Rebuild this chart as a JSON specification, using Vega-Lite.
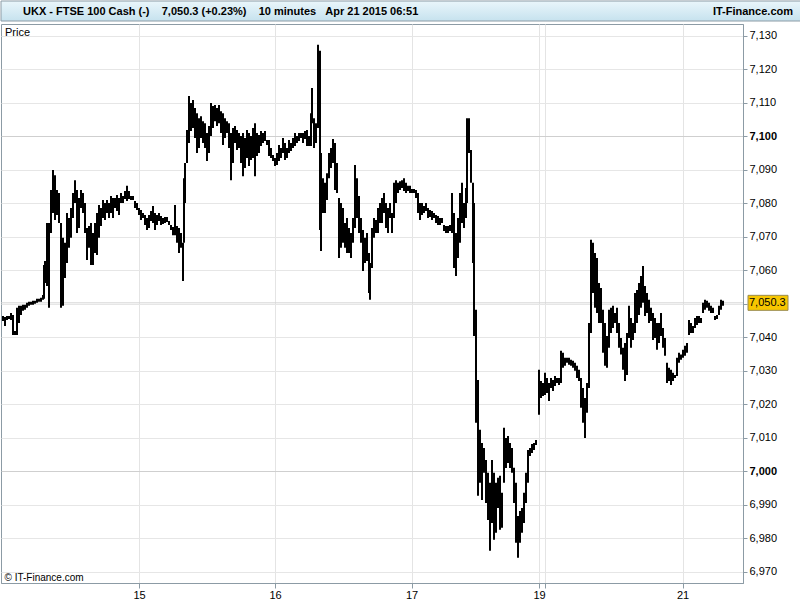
{
  "$schema": "https://vega.github.io/schema/vega-lite/v6.json",
  "padding": 0,
  "background": "white",
  "spacing": 1,
  "config": {"font": "Liberation Sans", "view": {"stroke": null}},
  "vconcat": [
    {
      "width": 800,
      "height": 20,
      "data": {"values": [{"head": "UKX - FTSE 100 Cash (-)\u00a0\u00a0\u00a0\u00a07,050.3 (+0.23%)\u00a0\u00a0\u00a0\u00a010 minutes\u00a0\u00a0\u00a0Apr 21 2015 06:51", "site": "IT-Finance.com"}]},
      "layer": [
        {
          "mark": {"type": "rect", "fill": {"gradient": "linear", "x1": 0, "y1": 0, "x2": 0, "y2": 1, "stops": [{"offset": 0, "color": "#eaf6fb"}, {"offset": 1, "color": "#c6e2ee"}]}, "stroke": "#8c9ba5", "strokeWidth": 1},
          "encoding": {}
        },
        {
          "mark": {"type": "text", "align": "left", "baseline": "middle", "dx": -378, "dy": 1, "fontSize": 11, "fontWeight": "bold", "color": "#000"},
          "encoding": {"text": {"field": "head"}}
        },
        {
          "mark": {"type": "text", "align": "right", "baseline": "middle", "dx": 392, "dy": 1, "fontSize": 11, "fontWeight": "bold", "color": "#000"},
          "encoding": {"text": {"field": "site"}}
        }
      ]
    },
    {
      "width": 742,
      "height": 559,
      "view": {"stroke": "#8c9ba5", "strokeWidth": 1},
      "title": {"text": "Price", "anchor": "start", "frame": "group", "orient": "top", "offset": -14, "dx": 4, "fontSize": 11, "fontWeight": "normal", "color": "#000"},
      "layer": [
        {
          "data": {"values": [{"last": 7050.3}]},
          "mark": {"type": "rule", "color": "#d4d4d4", "strokeWidth": 1},
          "encoding": {
            "y": {"field": "last", "type": "quantitative", "scale": {"domain": [6966.7, 7133.5], "nice": false, "zero": false}}
          }
        },
        {
          "data": {"values": [
            {"bar":2,"high":7046.4,"low":7044.9},{"bar":4,"high":7046.1,"low":7043.4},{"bar":6,"high":7046.4,"low":7045.2},{"bar":8,"high":7046.4,"low":7045.5},
            {"bar":10,"high":7047.3,"low":7045.2},{"bar":12,"high":7046.7,"low":7040.7},{"bar":14,"high":7041.9,"low":7040.7},{"bar":16,"high":7048.8,"low":7040.7},
            {"bar":18,"high":7049.4,"low":7044.3},{"bar":20,"high":7049.4,"low":7046.7},{"bar":22,"high":7049.7,"low":7047.9},{"bar":24,"high":7049.7,"low":7048.2},
            {"bar":26,"high":7050.3,"low":7048.8},{"bar":28,"high":7050.6,"low":7049.4},{"bar":30,"high":7050.6,"low":7049.7},{"bar":32,"high":7050.9,"low":7049.7},
            {"bar":34,"high":7050.9,"low":7050.0},{"bar":36,"high":7051.5,"low":7050.3},{"bar":38,"high":7051.5,"low":7050.6},{"bar":40,"high":7051.8,"low":7050.6},
            {"bar":42,"high":7052.6,"low":7051.2},{"bar":43,"high":7061.6,"low":7051.5},{"bar":44,"high":7062.8,"low":7056.2},{"bar":46,"high":7074.1,"low":7055.3},
            {"bar":48,"high":7074.1,"low":7048.8},{"bar":50,"high":7084.0,"low":7071.1},{"bar":52,"high":7089.9,"low":7077.1},{"bar":54,"high":7088.4,"low":7075.0},
            {"bar":56,"high":7084.0,"low":7076.5},{"bar":58,"high":7083.1,"low":7074.1},{"bar":60,"high":7074.1,"low":7048.8},{"bar":62,"high":7069.7,"low":7049.4},
            {"bar":64,"high":7068.2,"low":7057.7},{"bar":66,"high":7077.1,"low":7062.2},{"bar":68,"high":7075.6,"low":7066.7},{"bar":70,"high":7078.6,"low":7069.7},
            {"bar":72,"high":7083.1,"low":7075.6},{"bar":74,"high":7086.9,"low":7080.1},{"bar":76,"high":7084.0,"low":7071.1},{"bar":78,"high":7081.6,"low":7072.6},
            {"bar":80,"high":7084.0,"low":7078.6},{"bar":82,"high":7083.1,"low":7077.1},{"bar":84,"high":7080.1,"low":7071.1},{"bar":86,"high":7072.6,"low":7063.1},
            {"bar":88,"high":7073.2,"low":7066.7},{"bar":90,"high":7074.1,"low":7061.6},{"bar":92,"high":7071.1,"low":7061.6},{"bar":94,"high":7074.1,"low":7065.2},
            {"bar":96,"high":7077.1,"low":7064.6},{"bar":98,"high":7079.5,"low":7069.7},{"bar":100,"high":7078.6,"low":7073.2},{"bar":102,"high":7081.0,"low":7075.6},
            {"bar":104,"high":7080.1,"low":7075.0},{"bar":106,"high":7081.0,"low":7077.1},{"bar":108,"high":7080.1,"low":7075.6},{"bar":110,"high":7082.2,"low":7077.1},
            {"bar":112,"high":7081.6,"low":7075.6},{"bar":114,"high":7081.6,"low":7078.6},{"bar":116,"high":7082.5,"low":7077.7},{"bar":118,"high":7081.6,"low":7076.5},
            {"bar":120,"high":7083.1,"low":7080.1},{"bar":122,"high":7082.2,"low":7080.1},{"bar":124,"high":7083.7,"low":7081.3},{"bar":126,"high":7085.2,"low":7080.7},
            {"bar":128,"high":7083.7,"low":7081.3},{"bar":130,"high":7082.2,"low":7081.0},{"bar":132,"high":7082.2,"low":7081.0},{"bar":134,"high":7080.7,"low":7078.6},
            {"bar":136,"high":7080.1,"low":7078.0},{"bar":138,"high":7078.6,"low":7076.5},{"bar":140,"high":7078.0,"low":7075.0},{"bar":142,"high":7077.1,"low":7075.6},
            {"bar":144,"high":7076.5,"low":7073.5},{"bar":146,"high":7075.6,"low":7072.0},{"bar":148,"high":7076.5,"low":7072.6},{"bar":150,"high":7077.7,"low":7074.7},
            {"bar":152,"high":7079.2,"low":7074.1},{"bar":154,"high":7077.1,"low":7072.0},{"bar":156,"high":7076.5,"low":7073.5},{"bar":158,"high":7077.1,"low":7074.7},
            {"bar":160,"high":7076.2,"low":7073.5},{"bar":162,"high":7075.6,"low":7073.8},{"bar":164,"high":7075.9,"low":7074.1},{"bar":166,"high":7075.9,"low":7074.4},
            {"bar":168,"high":7074.7,"low":7073.5},{"bar":170,"high":7073.5,"low":7072.0},{"bar":172,"high":7072.9,"low":7070.5},{"bar":174,"high":7079.5,"low":7070.5},
            {"bar":176,"high":7073.2,"low":7068.2},{"bar":178,"high":7072.6,"low":7065.2},{"bar":180,"high":7071.1,"low":7066.7},{"bar":182,"high":7068.2,"low":7056.8},
            {"bar":183,"high":7087.5,"low":7068.2},{"bar":184,"high":7092.0,"low":7080.1},{"bar":186,"high":7101.9,"low":7092.0},{"bar":188,"high":7112.0,"low":7098.0},
            {"bar":190,"high":7109.9,"low":7101.6},{"bar":192,"high":7110.8,"low":7102.5},{"bar":194,"high":7108.4,"low":7099.5},{"bar":196,"high":7106.9,"low":7095.0},
            {"bar":198,"high":7105.4,"low":7096.5},{"bar":200,"high":7106.0,"low":7099.5},{"bar":202,"high":7104.5,"low":7098.0},{"bar":204,"high":7103.9,"low":7096.5},
            {"bar":206,"high":7101.0,"low":7092.6},{"bar":208,"high":7103.1,"low":7095.0},{"bar":210,"high":7109.9,"low":7100.1},{"bar":212,"high":7109.0,"low":7102.5},
            {"bar":214,"high":7109.3,"low":7104.5},{"bar":216,"high":7108.4,"low":7103.1},{"bar":218,"high":7109.3,"low":7103.9},{"bar":220,"high":7107.5,"low":7101.0},
            {"bar":222,"high":7106.9,"low":7097.4},{"bar":224,"high":7105.4,"low":7099.5},{"bar":226,"high":7104.5,"low":7101.0},{"bar":228,"high":7103.9,"low":7096.5},
            {"bar":230,"high":7101.0,"low":7086.9},{"bar":232,"high":7102.5,"low":7092.0},{"bar":234,"high":7103.1,"low":7098.0},{"bar":236,"high":7101.9,"low":7095.9},
            {"bar":238,"high":7101.0,"low":7096.5},{"bar":240,"high":7100.1,"low":7092.0},{"bar":242,"high":7101.0,"low":7088.1},{"bar":244,"high":7099.5,"low":7090.5},
            {"bar":246,"high":7101.9,"low":7093.5},{"bar":248,"high":7101.0,"low":7091.1},{"bar":250,"high":7100.1,"low":7092.9},{"bar":252,"high":7102.5,"low":7093.5},
            {"bar":254,"high":7103.9,"low":7088.1},{"bar":256,"high":7101.0,"low":7094.1},{"bar":258,"high":7100.4,"low":7095.0},{"bar":260,"high":7101.6,"low":7097.1},
            {"bar":262,"high":7101.0,"low":7098.0},{"bar":264,"high":7101.6,"low":7098.6},{"bar":266,"high":7098.9,"low":7097.4},{"bar":268,"high":7098.9,"low":7094.1},
            {"bar":270,"high":7096.5,"low":7093.5},{"bar":272,"high":7094.4,"low":7092.6},{"bar":274,"high":7093.5,"low":7091.1},{"bar":276,"high":7095.0,"low":7091.4},
            {"bar":278,"high":7097.4,"low":7092.6},{"bar":280,"high":7096.5,"low":7093.5},{"bar":282,"high":7099.5,"low":7095.0},{"bar":284,"high":7098.0,"low":7092.9},
            {"bar":286,"high":7096.5,"low":7093.5},{"bar":288,"high":7098.9,"low":7095.0},{"bar":290,"high":7098.0,"low":7095.6},{"bar":292,"high":7099.5,"low":7096.5},
            {"bar":294,"high":7101.0,"low":7097.1},{"bar":296,"high":7100.1,"low":7098.0},{"bar":298,"high":7101.0,"low":7098.6},{"bar":300,"high":7101.0,"low":7099.5},
            {"bar":302,"high":7101.0,"low":7098.0},{"bar":304,"high":7101.6,"low":7099.2},{"bar":306,"high":7101.9,"low":7097.1},{"bar":308,"high":7100.1,"low":7097.1},
            {"bar":310,"high":7106.9,"low":7097.1},{"bar":311,"high":7114.4,"low":7103.9},{"bar":313,"high":7105.4,"low":7096.5},{"bar":315,"high":7103.9,"low":7098.0},
            {"bar":317,"high":7127.3,"low":7102.5},{"bar":319,"high":7125.5,"low":7072.0},{"bar":320,"high":7095.0,"low":7065.8},{"bar":322,"high":7087.5,"low":7077.1},
            {"bar":324,"high":7086.1,"low":7077.1},{"bar":326,"high":7089.0,"low":7081.0},{"bar":328,"high":7095.0,"low":7087.5},{"bar":330,"high":7096.5,"low":7090.5},
            {"bar":332,"high":7099.2,"low":7092.0},{"bar":334,"high":7098.0,"low":7084.0},{"bar":336,"high":7092.0,"low":7083.1},{"bar":338,"high":7081.6,"low":7063.7},
            {"bar":340,"high":7080.1,"low":7066.7},{"bar":342,"high":7078.6,"low":7068.2},{"bar":344,"high":7074.1,"low":7066.7},{"bar":346,"high":7075.6,"low":7065.2},
            {"bar":348,"high":7072.6,"low":7065.2},{"bar":350,"high":7071.1,"low":7063.7},{"bar":352,"high":7075.6,"low":7068.2},{"bar":354,"high":7091.4,"low":7072.6},
            {"bar":356,"high":7087.5,"low":7075.6},{"bar":358,"high":7082.2,"low":7071.1},{"bar":360,"high":7075.6,"low":7068.2},{"bar":362,"high":7072.0,"low":7059.8},
            {"bar":364,"high":7069.7,"low":7062.2},{"bar":366,"high":7071.1,"low":7062.8},{"bar":368,"high":7065.2,"low":7053.2},{"bar":369,"high":7062.2,"low":7051.2},
            {"bar":371,"high":7072.6,"low":7060.7},{"bar":373,"high":7075.6,"low":7069.7},{"bar":375,"high":7075.0,"low":7071.1},{"bar":377,"high":7078.6,"low":7071.1},
            {"bar":379,"high":7080.1,"low":7074.1},{"bar":381,"high":7081.6,"low":7074.1},{"bar":383,"high":7083.1,"low":7077.1},{"bar":385,"high":7080.1,"low":7072.6},
            {"bar":387,"high":7078.6,"low":7071.1},{"bar":389,"high":7080.1,"low":7075.6},{"bar":391,"high":7077.1,"low":7071.1},{"bar":393,"high":7086.1,"low":7075.6},
            {"bar":395,"high":7086.9,"low":7080.1},{"bar":397,"high":7086.1,"low":7083.1},{"bar":399,"high":7086.6,"low":7084.0},{"bar":401,"high":7086.9,"low":7084.6},
            {"bar":403,"high":7087.5,"low":7083.7},{"bar":405,"high":7086.1,"low":7083.1},{"bar":407,"high":7085.2,"low":7083.7},{"bar":409,"high":7085.2,"low":7083.1},
            {"bar":411,"high":7084.3,"low":7083.1},{"bar":413,"high":7084.3,"low":7083.1},{"bar":415,"high":7084.0,"low":7081.6},{"bar":417,"high":7083.1,"low":7077.1},
            {"bar":419,"high":7080.1,"low":7075.0},{"bar":421,"high":7080.1,"low":7076.5},{"bar":423,"high":7079.2,"low":7077.1},{"bar":425,"high":7080.1,"low":7077.7},
            {"bar":427,"high":7078.6,"low":7075.6},{"bar":429,"high":7078.0,"low":7075.9},{"bar":431,"high":7077.7,"low":7075.0},{"bar":433,"high":7077.1,"low":7075.6},
            {"bar":435,"high":7076.5,"low":7074.1},{"bar":437,"high":7076.2,"low":7073.5},{"bar":439,"high":7075.6,"low":7073.5},{"bar":441,"high":7075.6,"low":7074.1},
            {"bar":443,"high":7073.5,"low":7071.7},{"bar":445,"high":7073.2,"low":7071.1},{"bar":447,"high":7073.2,"low":7071.1},{"bar":449,"high":7073.5,"low":7071.7},
            {"bar":451,"high":7083.1,"low":7071.1},{"bar":453,"high":7077.1,"low":7060.7},{"bar":455,"high":7071.1,"low":7058.3},{"bar":457,"high":7075.6,"low":7063.7},
            {"bar":459,"high":7083.1,"low":7068.2},{"bar":461,"high":7086.1,"low":7074.1},{"bar":463,"high":7080.1,"low":7072.6},{"bar":465,"high":7084.6,"low":7075.6},
            {"bar":466,"high":7105.4,"low":7080.1},{"bar":468,"high":7105.4,"low":7095.0},{"bar":470,"high":7095.9,"low":7086.1},{"bar":472,"high":7086.1,"low":7062.2},
            {"bar":473,"high":7080.1,"low":7040.4},{"bar":475,"high":7048.2,"low":7014.5},{"bar":477,"high":7027.3,"low":6992.7},{"bar":479,"high":7012.4,"low":6996.6},
            {"bar":481,"high":7008.5,"low":6991.5},{"bar":483,"high":7007.0,"low":6999.6},{"bar":485,"high":7003.4,"low":6990.6},{"bar":487,"high":6999.6,"low":6985.5},
            {"bar":489,"high":6996.6,"low":6976.3},{"bar":491,"high":7003.4,"low":6984.6},{"bar":493,"high":6999.6,"low":6979.6},{"bar":495,"high":6996.6,"low":6981.7},
            {"bar":497,"high":6998.1,"low":6989.1},{"bar":499,"high":6998.7,"low":6982.6},{"bar":501,"high":6993.6,"low":6983.2},{"bar":503,"high":7013.0,"low":6996.6},
            {"bar":505,"high":7010.0,"low":7001.0},{"bar":507,"high":7010.6,"low":7002.5},{"bar":509,"high":7008.5,"low":7001.0},{"bar":511,"high":7007.0,"low":6999.6},
            {"bar":513,"high":7001.1,"low":6990.6},{"bar":515,"high":6996.6,"low":6978.7},{"bar":517,"high":6986.7,"low":6974.2},{"bar":519,"high":6988.2,"low":6978.7},
            {"bar":521,"high":6989.1,"low":6981.7},{"bar":523,"high":6993.6,"low":6984.6},{"bar":525,"high":6999.6,"low":6990.6},{"bar":527,"high":7006.4,"low":6996.6},
            {"bar":529,"high":7007.0,"low":7004.6},{"bar":531,"high":7008.2,"low":7005.5},{"bar":533,"high":7008.5,"low":7006.4},{"bar":535,"high":7009.4,"low":7007.9},
            {"bar":538,"high":7030.3,"low":7016.9},{"bar":540,"high":7027.0,"low":7021.9},{"bar":542,"high":7026.4,"low":7022.5},{"bar":544,"high":7029.4,"low":7022.8},
            {"bar":546,"high":7027.9,"low":7023.4},{"bar":548,"high":7026.4,"low":7021.0},{"bar":550,"high":7027.9,"low":7024.9},{"bar":552,"high":7027.3,"low":7024.0},
            {"bar":554,"high":7028.5,"low":7025.5},{"bar":556,"high":7027.9,"low":7026.4},{"bar":558,"high":7027.9,"low":7025.8},{"bar":560,"high":7036.0,"low":7026.4},
            {"bar":562,"high":7035.4,"low":7030.9},{"bar":564,"high":7033.9,"low":7031.5},{"bar":566,"high":7033.9,"low":7032.4},{"bar":568,"high":7033.9,"low":7031.8},
            {"bar":570,"high":7033.3,"low":7031.5},{"bar":572,"high":7033.0,"low":7030.9},{"bar":574,"high":7032.4,"low":7030.0},{"bar":576,"high":7031.5,"low":7027.9},
            {"bar":578,"high":7030.3,"low":7027.0},{"bar":580,"high":7027.9,"low":7019.0},{"bar":582,"high":7024.9,"low":7014.5},{"bar":584,"high":7021.9,"low":7010.0},
            {"bar":586,"high":7026.4,"low":7017.5},{"bar":588,"high":7044.3,"low":7024.9},{"bar":590,"high":7069.1,"low":7041.3},{"bar":592,"high":7068.2,"low":7053.2},
            {"bar":594,"high":7065.2,"low":7048.8},{"bar":596,"high":7063.7,"low":7047.3},{"bar":598,"high":7056.2,"low":7044.3},{"bar":600,"high":7054.7,"low":7044.3},
            {"bar":602,"high":7048.2,"low":7035.4},{"bar":604,"high":7044.3,"low":7031.5},{"bar":606,"high":7040.4,"low":7030.9},{"bar":608,"high":7048.2,"low":7036.9},
            {"bar":610,"high":7048.8,"low":7041.3},{"bar":612,"high":7049.4,"low":7042.8},{"bar":614,"high":7047.3,"low":7044.3},{"bar":616,"high":7048.8,"low":7041.3},
            {"bar":618,"high":7044.3,"low":7036.9},{"bar":620,"high":7039.8,"low":7034.9},{"bar":622,"high":7036.9,"low":7030.3},{"bar":624,"high":7038.3,"low":7027.0},
            {"bar":626,"high":7041.3,"low":7028.8},{"bar":628,"high":7049.4,"low":7039.8},{"bar":630,"high":7045.8,"low":7036.9},{"bar":632,"high":7044.3,"low":7039.2},
            {"bar":634,"high":7053.2,"low":7041.3},{"bar":636,"high":7054.1,"low":7044.3},{"bar":638,"high":7056.2,"low":7046.7},{"bar":640,"high":7058.3,"low":7048.8},
            {"bar":642,"high":7061.3,"low":7050.3},{"bar":644,"high":7055.3,"low":7046.4},{"bar":646,"high":7053.2,"low":7047.3},{"bar":648,"high":7051.2,"low":7044.3},
            {"bar":650,"high":7048.8,"low":7044.9},{"bar":652,"high":7047.3,"low":7039.2},{"bar":654,"high":7045.8,"low":7039.8},{"bar":656,"high":7044.3,"low":7036.3},
            {"bar":658,"high":7044.3,"low":7038.3},{"bar":660,"high":7047.3,"low":7040.4},{"bar":662,"high":7042.8,"low":7036.9},{"bar":664,"high":7039.8,"low":7034.5},
            {"bar":666,"high":7032.4,"low":7026.4},{"bar":668,"high":7030.9,"low":7027.0},{"bar":670,"high":7030.3,"low":7025.8},{"bar":672,"high":7029.4,"low":7027.0},
            {"bar":674,"high":7028.8,"low":7027.9},{"bar":676,"high":7033.9,"low":7028.5},{"bar":678,"high":7035.4,"low":7032.4},{"bar":680,"high":7034.9,"low":7033.3},
            {"bar":682,"high":7036.3,"low":7033.9},{"bar":684,"high":7037.5,"low":7034.5},{"bar":686,"high":7038.3,"low":7035.4},{"bar":688,"high":7045.2,"low":7040.7},
            {"bar":690,"high":7044.3,"low":7041.3},{"bar":692,"high":7043.4,"low":7041.3},{"bar":694,"high":7045.8,"low":7042.8},{"bar":696,"high":7046.4,"low":7043.7},
            {"bar":698,"high":7046.4,"low":7044.3},{"bar":700,"high":7045.8,"low":7044.3},{"bar":702,"high":7050.3,"low":7047.3},{"bar":704,"high":7051.2,"low":7048.2},
            {"bar":706,"high":7050.9,"low":7048.8},{"bar":708,"high":7050.3,"low":7047.9},{"bar":710,"high":7049.4,"low":7047.3},{"bar":712,"high":7048.8,"low":7047.3},
            {"bar":714,"high":7046.4,"low":7045.2},{"bar":716,"high":7046.7,"low":7045.5},{"bar":718,"high":7049.4,"low":7046.7},{"bar":720,"high":7051.2,"low":7048.2},
            {"bar":722,"high":7050.9,"low":7049.4}
          ]},
          "mark": {"type": "rule", "color": "#000", "strokeWidth": 2},
          "encoding": {
            "x": {"field": "bar", "type": "quantitative", "scale": {"domain": [0, 742], "nice": false, "zero": false},
              "axis": {"orient": "bottom", "values": [138, 274, 410.5, 538, 544, 681.5], "tickCount": 20, "labelExpr": "datum.value == 138 ? '15' : datum.value == 274 ? '16' : datum.value == 410.5 ? '17' : datum.value == 538 ? '19' : datum.value == 681.5 ? '21' : ''", "labelFontSize": 11, "labelColor": "#000", "labelPadding": 1, "labelOverlap": false, "labelFlush": false, "tickSize": 5, "tickColor": "#8c9ba5", "domainColor": "#8c9ba5", "grid": true, "gridColor": "#e4e4e4", "title": "© IT-Finance.com", "titleFontSize": 10, "titleFontWeight": "normal", "titleColor": "#000", "titleX": 3, "titleY": -3, "titleAlign": "left", "titleBaseline": "alphabetic"}},
            "y": {"field": "high", "type": "quantitative", "scale": {"domain": [6966.7, 7133.5], "nice": false, "zero": false},
              "axis": {"orient": "right", "values": [6970, 6980, 6990, 7000, 7010, 7020, 7030, 7040, 7050, 7060, 7070, 7080, 7090, 7100, 7110, 7120, 7130], "tickCount": 20, "format": ",d", "labelFontSize": 11, "labelColor": "#000", "labelFontWeight": {"condition": {"test": "datum.value % 100 === 0", "value": "bold"}, "value": "normal"}, "labelPadding": 2, "tickSize": 4, "tickColor": "#8c9ba5", "domainColor": "#8c9ba5", "grid": true, "gridColor": {"condition": {"test": "datum.value % 100 === 0", "value": "#cfcfcf"}, "value": "#e6e6e6"}, "title": null, "labelOverlap": false}},
            "y2": {"field": "low"}
          }
        },
        {
          "data": {"values": [{"last": 7050.3}]},
          "layer": [
            {
              "mark": {"type": "tick", "orient": "horizontal", "size": 40, "thickness": 15, "color": "#f7c600", "stroke": "#9a8c50", "strokeWidth": 1, "xOffset": 25, "opacity": 1},
              "encoding": {"y": {"field": "last", "type": "quantitative"}, "x": {"value": "width"}}
            },
            {
              "mark": {"type": "text", "align": "left", "baseline": "middle", "dx": 6, "fontSize": 11, "color": "#000"},
              "encoding": {"y": {"field": "last", "type": "quantitative"}, "x": {"value": "width"}, "text": {"field": "last", "type": "quantitative", "format": ",.1f"}}
            }
          ]
        }
      ]
    }
  ]
}
